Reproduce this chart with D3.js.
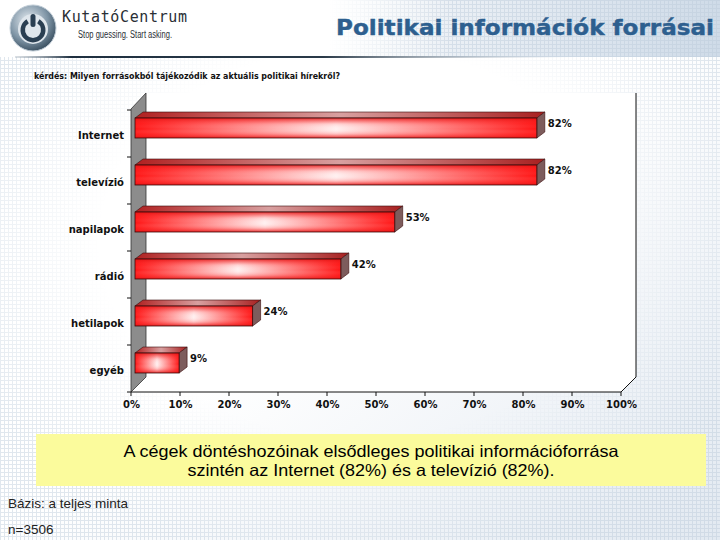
<!DOCTYPE html>
<html><head><meta charset="utf-8">
<script src="https://cdn.jsdelivr.net/npm/d3@7"></script>
<style>body{margin:0;background:#fff}svg{display:block}</style>
</head><body><svg id="c" width="720" height="540"></svg>
<script>
// ---- data ----
const categories = ["Internet", "televízió", "napilapok", "rádió", "hetilapok", "egyéb"];
const values = [82, 82, 53, 42, 24, 9];
const xTickValues = [0, 10, 20, 30, 40, 50, 60, 70, 80, 90, 100];
const title = "Politikai információk forrásai";
const question = "kérdés: Milyen forrásokból tájékozódik az aktuális politikai hírekről?";
const noteLines = ["A cégek döntéshozóinak elsődleges politikai információforrása",
                   "szintén az Internet (82%) és a televízió (82%)."];
const baseLines = ["Bázis: a teljes minta", "n=3506"];

const svg = d3.select("#c");
const defs = svg.append("defs");

// background gradients
const bg = defs.append("linearGradient").attr("id","bg").attr("x1",0).attr("y1",0).attr("x2",1).attr("y2",1);
bg.append("stop").attr("offset","0%").attr("stop-color","#ffffff");
bg.append("stop").attr("offset","50%").attr("stop-color","#ffffff");
bg.append("stop").attr("offset","100%").attr("stop-color","#e2e9f1");
const hdr = defs.append("linearGradient").attr("id","hdr").attr("x1",0).attr("y1",0).attr("x2",1).attr("y2",0);
hdr.append("stop").attr("offset","0%").attr("stop-color","#ffffff");
hdr.append("stop").attr("offset","35%").attr("stop-color","#ffffff");
hdr.append("stop").attr("offset","100%").attr("stop-color","#cfdbe8");
const grid = defs.append("pattern").attr("id","grid").attr("width",4).attr("height",4).attr("patternUnits","userSpaceOnUse");
grid.append("path").attr("d","M0 0.5H4M0.5 0V4").attr("stroke","#b9c9da").attr("stroke-width",1).attr("opacity",0.45);
const fadeL = defs.append("linearGradient").attr("id","fadeL").attr("x1",0).attr("y1",0).attr("x2",1).attr("y2",0);
fadeL.append("stop").attr("offset","0%").attr("stop-color","#fff").attr("stop-opacity",0);
fadeL.append("stop").attr("offset","100%").attr("stop-color","#fff").attr("stop-opacity",1);
const lineG = defs.append("linearGradient").attr("id","lineG").attr("x1",0).attr("y1",0).attr("x2",1).attr("y2",0);
lineG.append("stop").attr("offset","0%").attr("stop-color","#8a9aa8").attr("stop-opacity",0.3);
lineG.append("stop").attr("offset","10%").attr("stop-color","#1f3040");
lineG.append("stop").attr("offset","55%").attr("stop-color","#2a3a48");
lineG.append("stop").attr("offset","100%").attr("stop-color","#c8d4e0").attr("stop-opacity",0);
// mask for grid texture: hidden in the centre, visible toward edges
const mg = defs.append("radialGradient").attr("id","maskG").attr("cx","50%").attr("cy","45%").attr("r","60%");
mg.append("stop").attr("offset","0%").attr("stop-color","#000");
mg.append("stop").attr("offset","60%").attr("stop-color","#000");
mg.append("stop").attr("offset","100%").attr("stop-color","#fff");
defs.append("mask").attr("id","gridMask").append("rect").attr("width",720).attr("height",540).attr("fill","url(#maskG)");

// bar gradients
const fH = defs.append("linearGradient").attr("id","frontH").attr("x1",0).attr("y1",0).attr("x2",1).attr("y2",0);
fH.append("stop").attr("offset","0%").attr("stop-color","#ff1414");
fH.append("stop").attr("offset","50%").attr("stop-color","#fff0f0");
fH.append("stop").attr("offset","100%").attr("stop-color","#ff1414");
const fV = defs.append("linearGradient").attr("id","frontV").attr("x1",0).attr("y1",0).attr("x2",0).attr("y2",1);
fV.append("stop").attr("offset","0%").attr("stop-color","#e01010").attr("stop-opacity",0.85);
fV.append("stop").attr("offset","30%").attr("stop-color","#ff3030").attr("stop-opacity",0.15);
fV.append("stop").attr("offset","55%").attr("stop-color","#ffffff").attr("stop-opacity",0.0);
fV.append("stop").attr("offset","80%").attr("stop-color","#ff3030").attr("stop-opacity",0.25);
fV.append("stop").attr("offset","100%").attr("stop-color","#e01010").attr("stop-opacity",0.85);
const tH = defs.append("linearGradient").attr("id","topH").attr("x1",0).attr("y1",0).attr("x2",1).attr("y2",0);
tH.append("stop").attr("offset","0%").attr("stop-color","#b02020");
tH.append("stop").attr("offset","50%").attr("stop-color","#d8a0a0");
tH.append("stop").attr("offset","100%").attr("stop-color","#a82020");

// logo gradient
const lg = defs.append("radialGradient").attr("id","logoG").attr("cx","40%").attr("cy","35%").attr("r","70%");
lg.append("stop").attr("offset","0%").attr("stop-color","#e8eef3");
lg.append("stop").attr("offset","60%").attr("stop-color","#7f95a6");
lg.append("stop").attr("offset","100%").attr("stop-color","#34495a");

// ---- background ----
svg.append("rect").attr("width",720).attr("height",540).attr("fill","url(#bg)");
svg.append("rect").attr("width",720).attr("height",540).attr("fill","url(#grid)").attr("mask","url(#gridMask)");
svg.append("rect").attr("width",720).attr("height",57).attr("fill","url(#hdr)");
svg.append("rect").attr("x",200).attr("width",520).attr("height",57).attr("fill","url(#grid)");
svg.append("rect").attr("width",330).attr("height",57).attr("fill","#fff");
svg.append("rect").attr("x",330).attr("width",120).attr("height",57).attr("fill","url(#fadeL)").attr("transform","translate(780,0) scale(-1,1)");
svg.append("rect").attr("x",15).attr("y",56).attr("width",560).attr("height",2).attr("fill","url(#lineG)");

// logo
const logo = svg.append("g");
logo.append("circle").attr("cx",33).attr("cy",28).attr("r",23).attr("fill","url(#logoG)").attr("stroke","#c0ccd6");
logo.append("circle").attr("cx",33).attr("cy",29).attr("r",15).attr("fill","#dfe6ec");
logo.append("path").attr("d",d3.arc()({innerRadius:8,outerRadius:12.5,startAngle:0.55,endAngle:2*Math.PI-0.55}))
  .attr("transform","translate(33,30)").attr("fill","#2a3f52");
logo.append("rect").attr("x",30.5).attr("y",14).attr("width",5).attr("height",13).attr("rx",2.5).attr("fill","#2a3f52");
svg.append("text").attr("x",62).attr("y",22).text("KutatóCentrum")
  .attr("font-family","DejaVu Sans Mono, monospace").attr("font-size",15).attr("fill","#2a2f36")
  .attr("textLength",125).attr("lengthAdjust","spacing");
svg.append("text").attr("x",78).attr("y",38).text("Stop guessing. Start asking.")
  .attr("font-family","Liberation Sans Narrow, Liberation Sans, sans-serif").attr("font-size",10).attr("fill","#2a2f36")
  .attr("textLength",94).attr("lengthAdjust","spacingAndGlyphs");

// title
svg.append("text").attr("x",714).attr("y",35).attr("text-anchor","end").text(title)
  .attr("font-family","DejaVu Sans, Verdana, sans-serif").attr("font-weight","bold").attr("font-size",21)
  .attr("fill","#2d5f8f").attr("stroke","#2d5f8f").attr("stroke-width",0.4)
  .attr("textLength",378).attr("lengthAdjust","spacingAndGlyphs");

// question
svg.append("text").attr("x",34).attr("y",79).text(question)
  .attr("font-family","DejaVu Sans, Verdana, sans-serif").attr("font-weight","bold").attr("font-size",8.5).attr("fill","#111")
  .attr("textLength",306).attr("lengthAdjust","spacingAndGlyphs");

// ---- chart ----
const x = d3.scaleLinear().domain([0,100]).range([131,621]);
const y = d3.scaleBand().domain(categories).range([110,392]).padding(0);
const D = {dx:15, dy:-15};   // depth of plot
const bOff = {dx:4, dy:-4};  // bar front offset
const bD = {dx:8, dy:-6};    // bar depth
const barH = 20;

const chart = svg.append("g");
const x0 = x(0), x100 = x(100), yTop = y.range()[0], yBot = y.range()[1];
// plot background (white)
chart.append("path").attr("d",`M${x0+D.dx},${yTop+D.dy-2}H${x100+D.dx}V${yBot+D.dy}L${x100},${yBot}H${x0}Z`).attr("fill","#fff");
// left wall
chart.append("path").attr("d",`M${x0},${yTop-1}L${x0+D.dx},${yTop+D.dy-2}V${yBot+D.dy}L${x0},${yBot}Z`)
  .attr("fill","#8c8c8c").attr("stroke","#333").attr("stroke-width",0.8);
// right border and floor edge
chart.append("path").attr("d",`M${x100+D.dx},${yTop+D.dy-2}V${yBot+D.dy}L${x100},${yBot}H${x0}`)
  .attr("fill","none").attr("stroke","#111").attr("stroke-width",1);
// left ticks at band boundaries
const bounds = categories.map(c=>y(c)).concat([yBot]);
chart.selectAll(".ltick").data(bounds).join("line")
  .attr("x1",x0-4).attr("x2",x0).attr("y1",d=>d).attr("y2",d=>d).attr("stroke","#111");
// bottom ticks
chart.selectAll(".btick").data(xTickValues).join("line")
  .attr("x1",d=>x(d)).attr("x2",d=>x(d)).attr("y1",yBot).attr("y2",yBot+4).attr("stroke","#111");

// bars
const bars = chart.selectAll(".bar").data(categories.map((c,i)=>({c, v:values[i]}))).join("g");
bars.each(function(d){
  const g = d3.select(this);
  const xl = x(0)+bOff.dx, xr = x(d.v)+bOff.dx;
  const yf = y(d.c) + y.bandwidth()/2 - 5.5 - barH/2 ;
  const yb = yf + barH;
  g.append("path").attr("d",`M${xl},${yf}L${xl+bD.dx},${yf+bD.dy}H${xr+bD.dx}L${xr},${yf}Z`)
    .attr("fill","url(#topH)").attr("stroke","#3a0a0a").attr("stroke-width",0.6);
  g.append("path").attr("d",`M${xr},${yf}L${xr+bD.dx},${yf+bD.dy}V${yb+bD.dy}L${xr},${yb}Z`)
    .attr("fill","#7d5c5c").attr("stroke","#3a0a0a").attr("stroke-width",0.6);
  g.append("rect").attr("x",xl).attr("y",yf).attr("width",xr-xl).attr("height",barH).attr("fill","url(#frontH)");
  g.append("rect").attr("x",xl).attr("y",yf).attr("width",xr-xl).attr("height",barH).attr("fill","url(#frontV)")
    .attr("stroke","#3a0a0a").attr("stroke-width",0.8);
  g.append("text").attr("x",xr+11).attr("y",yf+9).text(d.v+"%")
    .attr("font-family","DejaVu Sans, Verdana, sans-serif").attr("font-weight","bold").attr("font-size",10).attr("fill","#111");
});

// category axis labels
const yAxis = d3.axisLeft(y).tickSize(0).tickPadding(7);
const ya = chart.append("g").attr("transform",`translate(${x0},0)`).call(yAxis);
ya.select(".domain").remove();
ya.selectAll("text").attr("font-family","DejaVu Sans, Verdana, sans-serif").attr("font-weight","bold")
  .attr("font-size",10).attr("fill","#111").attr("dy","0.5em");

// x axis labels
const xAxis = d3.axisBottom(x).tickValues(xTickValues).tickSize(0).tickPadding(9).tickFormat(d=>d+"%");
const xa = chart.append("g").attr("transform",`translate(0,${yBot})`).call(xAxis);
xa.select(".domain").remove();
xa.selectAll("text").attr("font-family","DejaVu Sans, Verdana, sans-serif").attr("font-weight","bold")
  .attr("font-size",10).attr("fill","#111");

// ---- note box ----
svg.append("rect").attr("x",36).attr("y",434).attr("width",670).attr("height",52).attr("fill","#fbfb9c");
const noteW = [495, 367];
svg.selectAll(".note").data(noteLines).join("text")
  .attr("x",371).attr("y",(d,i)=>457+i*19).attr("text-anchor","middle").text(d=>d)
  .attr("textLength",(d,i)=>noteW[i]).attr("lengthAdjust","spacingAndGlyphs")
  .attr("font-family","Liberation Sans, Arial, sans-serif").attr("font-size",16.5).attr("fill","#000");

// base
svg.selectAll(".base").data(baseLines).join("text")
  .attr("x",8).attr("y",(d,i)=>508+i*26).text(d=>d)
  .attr("font-family","Liberation Sans Narrow, Liberation Sans, sans-serif").attr("font-size",13.5).attr("fill","#222");
</script></body></html>
